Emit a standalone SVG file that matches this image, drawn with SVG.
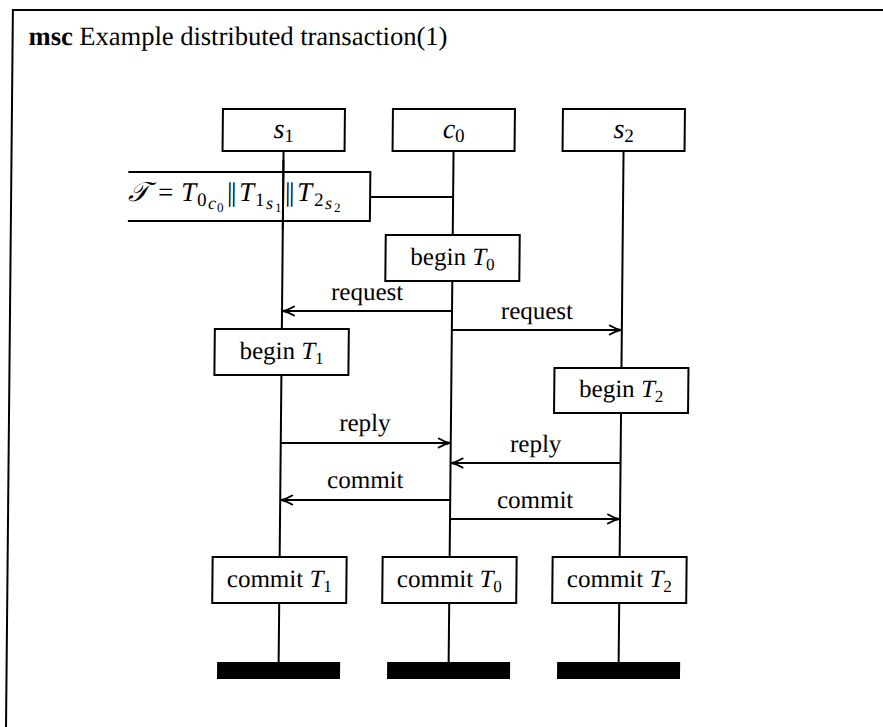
<svg xmlns="http://www.w3.org/2000/svg" width="883" height="727" viewBox="0 0 883 727">
<style>
  text { font-family: "Liberation Serif", "DejaVu Serif", serif; fill: #000; }
  .title { font-size: 26.5px; }
  .lbl { font-size: 25px; text-anchor: middle; }
  .head { font-size: 28px; text-anchor: middle; }
  .it { font-style: italic; }
  .f { font-size: 27px; }
  .s1 { font-size: 19px; }
  .s2 { font-size: 18px; font-style: italic; }
  .s3 { font-size: 13px; }
  .box { fill: #fff; stroke: #000; stroke-width: 2; }
  .open { fill: none; stroke: #000; stroke-width: 2; }
  .life { stroke: #000; stroke-width: 2; fill: none; }
  .msg { stroke: #000; stroke-width: 2; fill: none; marker-end: url(#arr); }
  .bar { fill: #000; stroke: none; }
  .frame { stroke: #000; stroke-width: 2; fill: none; }
</style>
<defs>
  <marker id="arr" markerUnits="userSpaceOnUse" markerWidth="16" markerHeight="14" refX="14" refY="7" orient="auto" viewBox="0 0 16 14">
    <path d="M3 2.5 Q9 6 14 7 Q9 8 3 11.5" fill="none" stroke="#000" stroke-width="2" stroke-linecap="round"/>
  </marker>
</defs>
<rect width="883" height="727" fill="#fff"/>
<g transform="skewX(-0.55)">
  <path class="frame" d="M13 740 V10 H900"/>
  <text class="title" x="29" y="45"><tspan font-weight="bold">msc</tspan> Example distributed transaction(1)</text>

  <g id="connectors">
    <path class="life" d="M285 151 V329 M285 375 V557 M285 603 V662"/>
    <path class="life" d="M455 151 V235 M455 281 V557 M455 603 V662"/>
    <path class="life" d="M625 151 V368 M625 413 V557 M625 603 V662"/>
    <path class="life" d="M372 197 H455"/>
    <path class="msg" d="M455 311 H286"/>
    <path class="msg" d="M455 330 H624"/>
    <path class="msg" d="M285 443 H454"/>
    <path class="msg" d="M625 463 H456"/>
    <path class="msg" d="M455 500 H286"/>
    <path class="msg" d="M455 519 H624"/>
    <text class="lbl" x="370" y="300">request</text>
    <text class="lbl" x="540" y="319">request</text>
    <text class="lbl" x="369" y="431">reply</text>
    <text class="lbl" x="540" y="452">reply</text>
    <text class="lbl" x="370" y="488">commit</text>
    <text class="lbl" x="540" y="508">commit</text>
  </g>

  <g id="s1">
    <rect class="box" x="224" y="109" width="122" height="42"/>
    <text class="head" x="285" y="138"><tspan class="it">s</tspan><tspan font-size="19" dy="4">1</tspan></text>
  </g>
  <g id="c0">
    <rect class="box" x="394" y="109" width="122" height="42"/>
    <text class="head" x="455" y="138"><tspan class="it">c</tspan><tspan font-size="19" dy="4">0</tspan></text>
  </g>
  <g id="s2">
    <rect class="box" x="564" y="109" width="122" height="42"/>
    <text class="head" x="625" y="138"><tspan class="it">s</tspan><tspan font-size="19" dy="4">2</tspan></text>
  </g>

  <g id="condition">
    <path class="open" d="M130 172 H372 V221 H130"/>
    <text class="f"><tspan class="it" x="130" y="201">𝒯</tspan><tspan x="160" y="201">=</tspan><tspan class="it" x="183" y="201">T</tspan><tspan class="s1" x="199" y="206">0</tspan><tspan class="s2" x="210" y="209">c</tspan><tspan class="s3" x="219" y="212">0</tspan><tspan x="229" y="201" letter-spacing="-1.5">||</tspan><tspan class="it" x="241" y="201">T</tspan><tspan class="s1" x="257" y="206">1</tspan><tspan class="s2" x="268" y="209">s</tspan><tspan class="s3" x="277" y="212">1</tspan><tspan x="287" y="201" letter-spacing="-1.5">||</tspan><tspan class="it" x="299" y="201">T</tspan><tspan class="s1" x="316" y="206">2</tspan><tspan class="s2" x="327" y="209">s</tspan><tspan class="s3" x="336" y="212">2</tspan></text>
    <path class="life" d="M285 160 V230"/>
  </g>

  <g id="beginT0">
    <rect class="box" x="388" y="235" width="134" height="46"/>
    <text class="lbl" x="455" y="265">begin <tspan class="it">T</tspan><tspan font-size="17" dy="5">0</tspan></text>
  </g>
  <g id="beginT1">
    <rect class="box" x="218" y="329" width="134" height="46"/>
    <text class="lbl" x="285" y="359">begin <tspan class="it">T</tspan><tspan font-size="17" dy="5">1</tspan></text>
  </g>
  <g id="beginT2">
    <rect class="box" x="558" y="368" width="134" height="45"/>
    <text class="lbl" x="625" y="397">begin <tspan class="it">T</tspan><tspan font-size="17" dy="5">2</tspan></text>
  </g>
  <g id="commitT1">
    <rect class="box" x="218" y="557" width="134" height="46"/>
    <text class="lbl" x="285" y="587">commit <tspan class="it">T</tspan><tspan font-size="17" dy="5">1</tspan></text>
  </g>
  <g id="commitT0">
    <rect class="box" x="388" y="557" width="134" height="46"/>
    <text class="lbl" x="455" y="587">commit <tspan class="it">T</tspan><tspan font-size="17" dy="5">0</tspan></text>
  </g>
  <g id="commitT2">
    <rect class="box" x="558" y="557" width="134" height="46"/>
    <text class="lbl" x="625" y="587">commit <tspan class="it">T</tspan><tspan font-size="17" dy="5">2</tspan></text>
  </g>
  <g id="end-s1"><rect class="bar" x="223.5" y="662" width="123" height="17"/></g>
  <g id="end-c0"><rect class="bar" x="393.5" y="662" width="123" height="17"/></g>
  <g id="end-s2"><rect class="bar" x="563.5" y="662" width="123" height="17"/></g>
</g>
</svg>
